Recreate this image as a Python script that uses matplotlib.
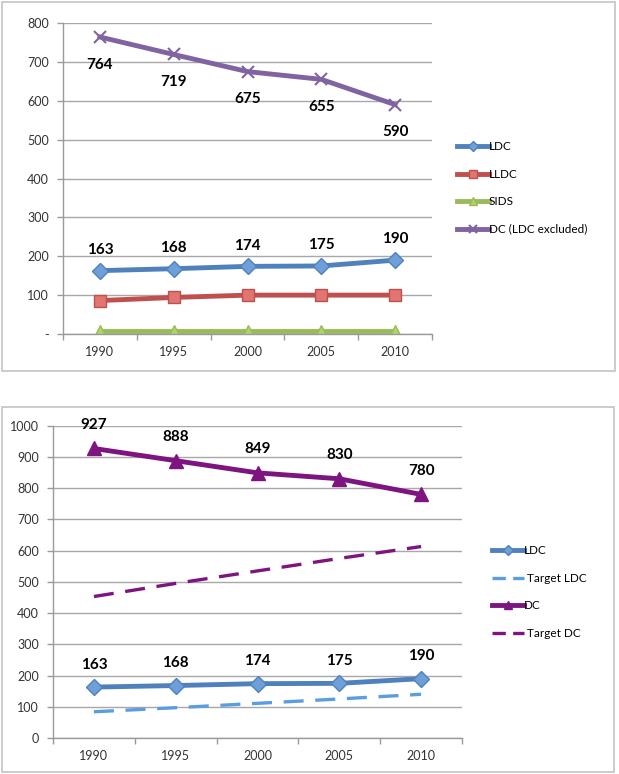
import matplotlib
matplotlib.use("Agg")
import matplotlib.pyplot as plt
from matplotlib.patches import Rectangle
from matplotlib.ticker import FixedLocator

plt.rcParams['font.family'] = ['Lato', 'DejaVu Sans']

years = ["1990", "1995", "2000", "2005", "2010"]

# top chart
ldc = [163, 168, 174, 175, 190]
lldc = [86, 94, 100, 100, 100]
sids = [7, 7, 7, 7, 7]
dc_excl = [764, 719, 675, 655, 590]

# bottom chart
dc = [927, 888, 849, 830, 780]
target_ldc = [84, 97, 111, 125, 140]
target_dc = [453, 495, 535, 575, 613]

W, H = 619, 774
fig = plt.figure(figsize=(W / 100, H / 100), dpi=100)


def fx(px):
    return px / W


def fy(py):
    return 1 - py / H


# light grey frames around each chart
for x0, y0, x1, y1 in [(2, 2, 615, 371), (2, 407, 614, 772)]:
    fig.patches.append(Rectangle((fx(x0), fy(y1)), fx(x1 - x0), (y1 - y0) / H,
                                 transform=fig.transFigure, fill=False,
                                 edgecolor="#c4c4c4", lw=1.2))


def style_axes(ax, ymax, step, zero_label):
    x = range(len(years))
    ax.set_xlim(-0.5, len(years) - 0.5)
    ax.set_ylim(0, ymax)
    ax.set_xticks(list(x))
    ax.set_xticklabels(years, fontsize=9, color="#333333")
    ax.xaxis.set_minor_locator(FixedLocator([i - 0.5 for i in range(len(years) + 1)]))
    ax.tick_params(axis="x", which="major", length=0, pad=9)
    ax.tick_params(axis="x", which="minor", length=4, color="#9a9a9a", width=1)
    yt = list(range(0, ymax + 1, step))
    ax.set_yticks(yt)
    ax.set_yticklabels([zero_label] + [str(v) for v in yt[1:]], fontsize=9, color="#333333")
    ax.tick_params(axis="y", length=4, color="#9a9a9a", width=1, pad=6)
    ax.grid(axis="y", color="#a8a8a8", lw=1)
    ax.set_axisbelow(True)
    for s in ["top", "right"]:
        ax.spines[s].set_visible(False)
    for s in ["left", "bottom"]:
        ax.spines[s].set_color("#9a9a9a")
        ax.spines[s].set_linewidth(1)


def labels(ax, vals, dy):
    for i, v in enumerate(vals):
        ax.annotate(str(v), (i, v), xytext=(0, dy), textcoords="offset points",
                    ha="center", va="center", fontsize=11, fontweight="bold",
                    color="black")


# ---- top chart
ax1 = fig.add_axes([fx(63), fy(334), fx(432 - 63), (334 - 23) / H])
x = list(range(len(years)))
ax1.plot(x, ldc, color="#4f81bd", lw=3.5, marker="D", ms=8, mfc="#6f9fd8",
         mec="#4f81bd", label="LDC")
ax1.plot(x, lldc, color="#c0504d", lw=3.5, marker="s", ms=9, mfc="#e07571",
         mec="#c0504d", label="LLDC")
ax1.plot(x, sids, color="#9bbb59", lw=3.5, marker="^", ms=9, mfc="#b1d36d",
         mec="#9bbb59", label="SIDS")
ax1.plot(x, dc_excl, color="#8064a2", lw=3.5, marker="x", ms=9, mew=1.5,
         label="DC (LDC excluded)")
style_axes(ax1, 800, 100, "-")
labels(ax1, dc_excl, -20)
labels(ax1, ldc, 15)
ax1.legend(loc="center left", bbox_to_anchor=(fx(457), fy(188)),
           bbox_transform=fig.transFigure, frameon=False, fontsize=8.5,
           handlelength=2.7, handletextpad=0.0, labelspacing=1.4,
           borderpad=0, borderaxespad=0, markerscale=0.6)

# ---- bottom chart
ax2 = fig.add_axes([fx(53), fy(738), fx(462 - 53), (738 - 425.7) / H])
ax2.plot(x, ldc, color="#4f81bd", lw=3.5, marker="D", ms=8, mfc="#6f9fd8",
         mec="#4f81bd", label="LDC")
ax2.plot(x, target_ldc, color="#5a9ee0", lw=2.4, ls=(0, (6, 3.5)), label="Target LDC")
ax2.plot(x, dc, color="#7e1480", lw=3.5, marker="^", ms=10, label="DC")
ax2.plot(x, target_dc, color="#7e1480", lw=2.4, ls=(0, (6, 3.5)), label="Target DC")
style_axes(ax2, 1000, 100, "0")
labels(ax2, dc, 17)
labels(ax2, ldc, 16)
leg = ax2.legend(loc="center left", bbox_to_anchor=(fx(492), fy(592)),
                 bbox_transform=fig.transFigure, frameon=False, fontsize=8.5,
                 handlelength=2.7, handletextpad=0.0, labelspacing=1.4,
                 borderpad=0, borderaxespad=0, markerscale=0.6)
# two even dashes in the legend handle, then a small gap before the text
for text, line in zip(leg.get_texts(), leg.get_lines()):
    if text.get_text().startswith("Target"):
        line.set_linestyle((0, (4, 2.2)))
        text.set_text(" " + text.get_text())

fig.savefig("out.png", dpi=100)
